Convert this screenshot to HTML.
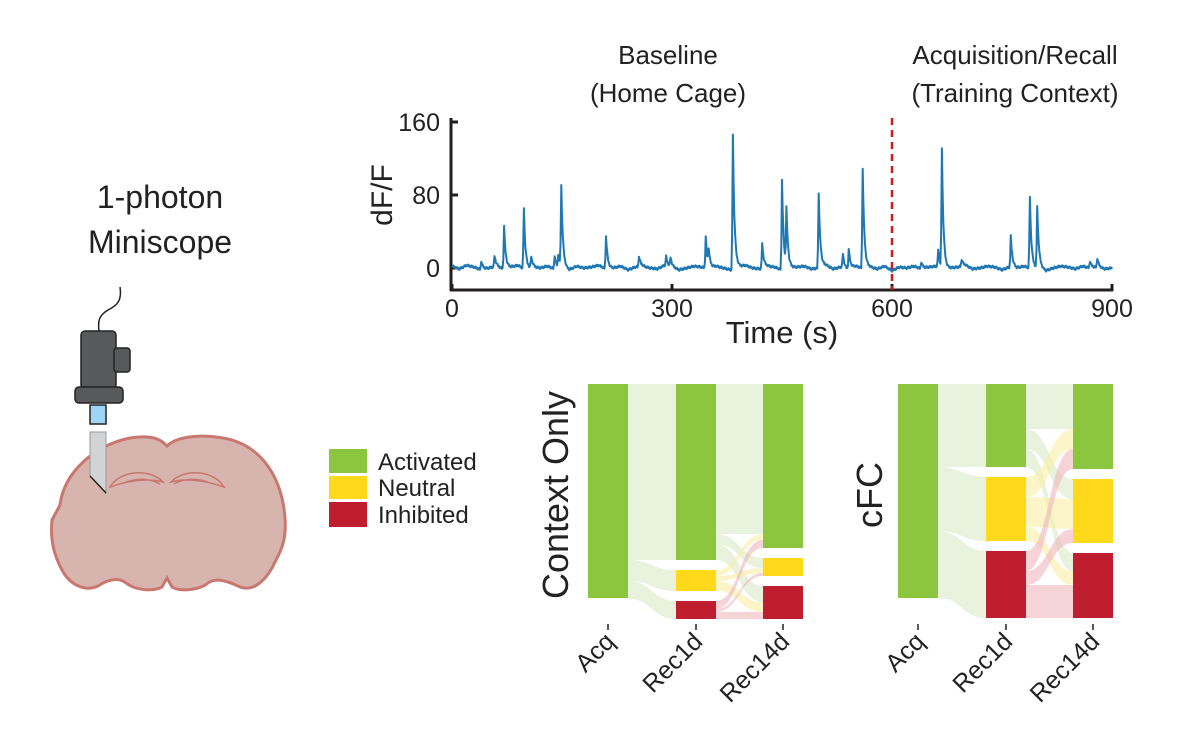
<!DOCTYPE html>
<html><head><meta charset="utf-8">
<style>
html,body{margin:0;padding:0;background:#fff;}
svg{display:block;font-family:"Liberation Sans","DejaVu Sans",sans-serif;}
</style></head>
<body>
<svg id="fig" width="1200" height="729" viewBox="0 0 1200 729" xmlns="http://www.w3.org/2000/svg">
  <g>
    <text x="160" y="208" font-size="32" text-anchor="middle" fill="#222">1-photon</text>
    <text x="160" y="253" font-size="32" text-anchor="middle" fill="#222">Miniscope</text>
    <path d="M120,287 C122,300 118,305 108,310 C98,316 98,322 99,331" fill="none" stroke="#222" stroke-width="1.5"/>
    <path d="M60,505 C64,472 95,445 130,438 C150,435 160,438 167,446 C176,437 200,433 228,439 C262,447 282,478 285,518 C287,545 278,555 272,568 C262,585 250,592 238,586 C225,580 215,578 208,583 C200,590 180,592 172,587 L167,578 L162,587 C152,592 135,590 126,583 C120,578 110,578 98,586 C85,592 70,585 62,570 C54,555 50,540 52,520 Z" fill="#d8b4ae" stroke="#c97870" stroke-width="3"/>
    <path d="M110,487 C120,470 150,468 163,482 C150,478 130,480 110,487 Z M124,483 C135,478 150,478 160,484" fill="none" stroke="#c97870" stroke-width="1.5"/>
    <path d="M224,487 C214,470 184,468 171,482 C184,478 204,480 224,487 Z M210,483 C199,478 184,478 174,484" fill="none" stroke="#c97870" stroke-width="1.5"/>
    <rect x="81" y="331" width="35" height="58" rx="4" fill="#58595b" stroke="#222" stroke-width="1.5"/>
    <rect x="114" y="348" width="16" height="24" rx="3" fill="#58595b" stroke="#222" stroke-width="1.5"/>
    <rect x="75" y="387" width="48" height="16" rx="4" fill="#58595b" stroke="#222" stroke-width="1.5"/>
    <rect x="90" y="405" width="16" height="19" fill="#9dd6f5" stroke="#222" stroke-width="1.5"/>
    <path d="M90,432 L106,432 L106,493 L90,476 Z" fill="#d1d3d4" stroke="#999" stroke-width="1"/>
    <path d="M90,476 L106,493" stroke="#222" stroke-width="1.5"/>
  </g>

  <g>
    <rect x="329" y="449" width="38" height="24" fill="#8cc63f"/>
    <rect x="329" y="476" width="38" height="23" fill="#ffd91a"/>
    <rect x="329" y="502" width="38" height="25" fill="#be1e2d"/>
    <text x="378" y="470" font-size="24" fill="#222">Activated</text>
    <text x="378" y="496" font-size="24" fill="#222">Neutral</text>
    <text x="378" y="523" font-size="24" fill="#222">Inhibited</text>
  </g>

  <g id="trace">
    <text x="668" y="64" font-size="26" text-anchor="middle" fill="#222">Baseline</text>
    <text x="668" y="102" font-size="26" text-anchor="middle" fill="#222">(Home Cage)</text>
    <text x="1015" y="64" font-size="26" text-anchor="middle" fill="#222">Acquisition/Recall</text>
    <text x="1015" y="102" font-size="26" text-anchor="middle" fill="#222">(Training Context)</text>
    <text transform="translate(392,195) rotate(-90)" font-size="30" text-anchor="middle" fill="#222">dF/F</text>
    <text x="782" y="343" font-size="31" text-anchor="middle" fill="#222">Time (s)</text>
  </g>

  <g id="sankeys">
    <text transform="translate(568,495) rotate(-90)" font-size="36" text-anchor="middle" fill="#222">Context Only</text>
    <text transform="translate(882,495) rotate(-90)" font-size="36" text-anchor="middle" fill="#222">cFC</text>
  </g>
</svg>
<script>
const NS = "http://www.w3.org/2000/svg";
// ---- trace data ----
const yTicks = [0, 80, 160];
const xTicks = [0, 300, 600, 900];
const spikeTimes = [40, 58, 71, 98, 108, 140, 145, 149, 210, 255, 292, 298, 346, 350, 383, 423, 450, 456, 500, 533, 541, 560, 640, 663, 668, 695, 762, 788, 798, 870, 880];
const spikeAmps  = [10, 12, 47, 67, 12, 15, 14, 87, 37, 12, 10, 10, 35, 18, 148, 28, 100, 62, 83, 16, 22, 110, 8, 20, 131, 8, 34, 79, 67, 8, 10];
const baselineNoise = [2,-1,3,1,-2,0,2,-1,1,3,-2,1,0,2,-1,1,-2,2,0,1,3,-1,0,2,-2,1,2,0,-1,3,1,-2,0,2,1,-1,2,0,-2,1,3,0,-1,2,1,-2,0,1,2,-1,0,3,-1,1,-2,2,0,1,-1,2,-3,1,0,2,-1,1,2,-2,0,1,3,-1,0,2,1,-2,1,0,2,-1,1,-3,0,2,1,-1,2,0,1,-1,0];
const markerTime = 600;

const X0 = 452, X1 = 1112, Y0 = 268, Y160 = 122;
const xs = t => X0 + t / 900 * (X1 - X0);
const ys = v => Y0 - v / 160 * (Y0 - Y160);
const trace = document.getElementById('trace');
function mk(tag, attrs, parent) {
  const e = document.createElementNS(NS, tag);
  for (const k in attrs) e.setAttribute(k, attrs[k]);
  (parent || trace).appendChild(e);
  return e;
}
let ax = mk('line', {x1: 451, y1: 118, x2: 451, y2: 291, stroke: '#231f20', 'stroke-width': 3});


ax = mk('line', {x1: 450, y1: 290, x2: 1113, y2: 290, stroke: '#231f20', 'stroke-width': 3});


yTicks.forEach(v => {
  const tk = mk('line', {x1: 451, x2: 458, y1: ys(v), y2: ys(v), stroke: '#231f20', 'stroke-width': 3});
  
  
  const tl = mk('text', {x: 440, y: ys(v) + 9, 'font-size': 25, 'text-anchor': 'end', fill: '#222'});
  tl.textContent = v;
  
  
});
xTicks.forEach(t => {
  const tk = mk('line', {x1: xs(t), x2: xs(t), y1: 284, y2: 291, stroke: '#231f20', 'stroke-width': 3});
  
  
  const tl = mk('text', {x: xs(t), y: 317, 'font-size': 25, 'text-anchor': 'middle', fill: '#222'});
  tl.textContent = t;
  
  
});
let d = '';
for (let t = 0; t <= 900; t += 1) {
  const i = Math.min(baselineNoise.length - 1, Math.floor(t / 10));
  const j = Math.min(baselineNoise.length - 1, i + 1);
  const f = (t % 10) / 10;
  let v = baselineNoise[i] * (1 - f) + baselineNoise[j] * f;
  v += ((t * 7) % 5 - 2) * 0.6;
  spikeTimes.forEach((st, k) => {
    const dt = t - st;
    if (dt >= -2 && dt < 0) v += spikeAmps[k] * (dt + 2) / 2 * 0.5;
    else if (dt >= 0) v += spikeAmps[k] * Math.exp(-dt / 2.2);
  });
  d += (t ? 'L' : 'M') + xs(t).toFixed(1) + ',' + ys(v).toFixed(1);
}
const tr = mk('path', {d: d, fill: 'none', stroke: '#1f77b4', 'stroke-width': 2, 'stroke-linejoin': 'round'});


const mline = mk('line', {x1: xs(markerTime), x2: xs(markerTime), y1: 118, y2: 290, stroke: '#d7191c', 'stroke-width': 2.5, 'stroke-dasharray': '7,5'});



// ---- sankey data ----
const stages = ['Acq', 'Rec1d', 'Rec14d'];
const categories = ['Activated', 'Neutral', 'Inhibited'];
const ctxAcq = [214, 0, 0];
const ctxFlow1 = [[176, 21, 18], [0, 0, 0], [0, 0, 0]];
const ctxFlow2 = [[150, 10, 16], [6, 5, 10], [8, 3, 7]];
const cfcAcq = [214, 0, 0];
const cfcFlow1 = [[83, 64, 67], [0, 0, 0], [0, 0, 0]];
const cfcFlow2 = [[45, 20, 18], [20, 30, 14], [20, 14, 33]];

const colors = ['#8cc63f', '#ffd91a', '#be1e2d'];
const flowColors = ['#d9eac4', '#fbefa6', '#efb5bb'];
const sk = document.getElementById('sankeys');
function sankey(name, x0, acq, f1, f2) {
  const barW = 40, gap = 10, top = 384, colX = [x0, x0 + 88, x0 + 175];
  const sums = [acq,
    [0,1,2].map(j => f1.reduce((s, r) => s + r[j], 0)),
    [0,1,2].map(j => f2.reduce((s, r) => s + r[j], 0))];
  const nodeY = sums.map(col => {
    let y = top; return col.map(v => { const s = y; if (v > 0) y += v + gap; return s; });
  });
  const g = mk('g', {}, sk);
  
  
  [f1, f2].forEach((f, si) => {
    const outOff = nodeY[si].slice(), inOff = nodeY[si + 1].slice();
    const xa = colX[si] + barW, xb = colX[si + 1];
    for (let i = 0; i < 3; i++) for (let j = 0; j < 3; j++) {
      const v = f[i][j]; if (!v) continue;
      const ya = outOff[i], yb = inOff[j]; outOff[i] += v; inOff[j] += v;
      const mx = (xa + xb) / 2;
      const p = mk('path', {d: `M${xa},${ya}C${mx},${ya} ${mx},${yb} ${xb},${yb}L${xb},${yb+v}C${mx},${yb+v} ${mx},${ya+v} ${xa},${ya+v}Z`, fill: flowColors[i], opacity: 0.6}, g);
      
      
    }
  });
  sums.forEach((col, si) => {
    col.forEach((v, ci) => {
      if (!v) return;
      const r = mk('rect', {x: colX[si], y: nodeY[si][ci], width: barW, height: v, fill: colors[ci]}, g);
      
      
    });
    const cx = colX[si] + barW / 2;
    const tk = mk('line', {x1: cx, x2: cx, y1: 624, y2: 630, stroke: '#222', 'stroke-width': 1.5}, g);
    
    
    const tl = mk('text', {transform: `translate(${cx + 8},${643}) rotate(-45)`, 'font-size': 25, 'text-anchor': 'end', fill: '#222'}, g);
    tl.textContent = stages[si];
    
    
  });
}
sankey('context-only', 588, ctxAcq, ctxFlow1, ctxFlow2);
sankey('cfc', 898, cfcAcq, cfcFlow1, cfcFlow2);
</script>
</body></html>
